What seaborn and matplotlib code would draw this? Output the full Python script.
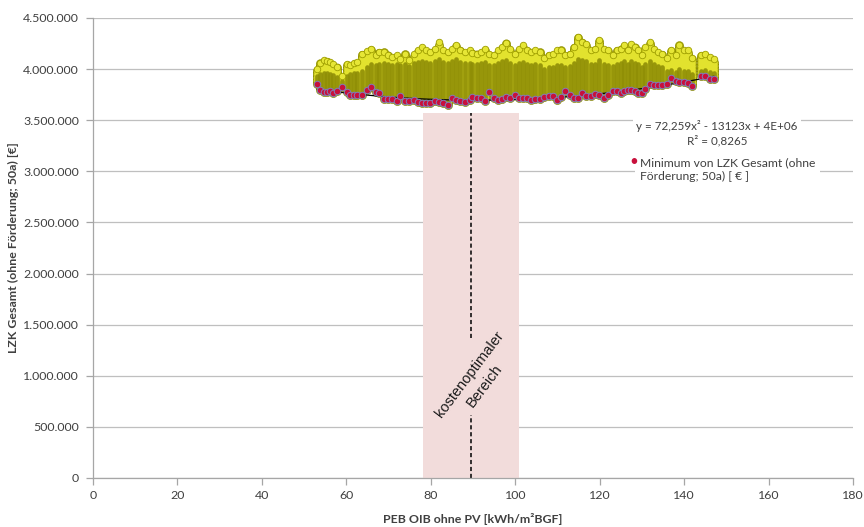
import numpy as np
import pandas as pd
import matplotlib
matplotlib.use("Agg")
import matplotlib.pyplot as plt
import seaborn as sns
from matplotlib.ticker import FuncFormatter

# ---------------- data ----------------
peb = [53.1, 53.8, 54.7, 55.4, 56.1, 56.9, 57.9, 58.9, 60.1, 60.9, 61.8, 62.6, 63.7, 65.0, 65.9, 67.0,
       67.8, 68.9, 69.9, 70.9, 72.0, 72.8, 73.8, 74.8,
       76.0, 77.0, 77.9, 78.9, 79.8, 81.0, 81.9, 82.9, 84.0, 85.0, 85.9, 87.0, 88.0, 89.2, 89.8, 90.9,
       91.9, 92.9, 93.9, 95.0, 95.9, 96.9, 97.9, 98.8,
       99.9, 100.9, 101.8, 102.8, 103.8, 104.8, 105.8, 106.8, 107.9, 109.0, 110.0, 110.9, 111.9, 112.9,
       113.9, 114.9, 115.8, 116.8, 117.9, 118.8, 119.9, 121.0, 122.0,
       123.2, 124.1, 125.0, 125.8, 126.6, 127.5, 128.3, 129.1, 130.0, 130.8, 131.9, 132.8, 133.8, 134.8,
       135.9, 137.0, 138.0, 138.9, 139.9, 140.9, 141.9, 143.9, 144.9, 146.1, 147.1]

# minimum LZK per variant column (Mio. €)
lzk_min = [3.853, 3.794, 3.775, 3.777, 3.781, 3.765, 3.781, 3.826, 3.777, 3.742, 3.742, 3.742, 3.742, 3.797,
           3.826, 3.777, 3.762, 3.706, 3.709, 3.703, 3.689, 3.735, 3.686, 3.689,
           3.696, 3.683, 3.664, 3.667, 3.670, 3.686, 3.674, 3.667, 3.650, 3.716, 3.696, 3.686, 3.676, 3.696,
           3.728, 3.722, 3.713, 3.689, 3.775, 3.716, 3.696, 3.709, 3.725, 3.713,
           3.745, 3.719, 3.719, 3.713, 3.696, 3.703, 3.706, 3.728, 3.738, 3.735, 3.696, 3.728, 3.784, 3.745,
           3.719, 3.719, 3.768, 3.738, 3.735, 3.752, 3.742, 3.719, 3.745,
           3.787, 3.784, 3.771, 3.787, 3.794, 3.794, 3.784, 3.771, 3.771, 3.801, 3.856, 3.843, 3.840, 3.843,
           3.853, 3.915, 3.885, 3.870, 3.876, 3.860, 3.836, 3.934, 3.934, 3.905, 3.899]

# maximum LZK per column (top of the yellow cloud, Mio. €)
lzk_max = [4.00, 4.06, 4.09, 4.08, 4.07, 4.05, 4.02, 3.93, 4.05, 4.04, 4.06, 4.07, 4.15, 4.18, 4.20, 4.14,
           4.17, 4.17, 4.14, 4.12, 4.14, 4.10, 4.15, 4.09,
           4.15, 4.19, 4.22, 4.19, 4.17, 4.20, 4.27, 4.19, 4.17, 4.20, 4.24, 4.19, 4.17, 4.19, 4.16, 4.15,
           4.17, 4.20, 4.15, 4.14, 4.19, 4.22, 4.26, 4.20,
           4.15, 4.20, 4.24, 4.19, 4.17, 4.19, 4.17, 4.11, 4.14, 4.15, 4.19, 4.19, 4.14, 4.15, 4.22, 4.31,
           4.27, 4.25, 4.19, 4.20, 4.28, 4.20, 4.19,
           4.14, 4.19, 4.20, 4.24, 4.19, 4.25, 4.22, 4.19, 4.14, 4.22, 4.27, 4.20, 4.17, 4.15, 4.11, 4.19,
           4.14, 4.24, 4.19, 4.19, 4.11, 4.14, 4.15, 4.12, 4.10]

# upper edge of the densely populated (dark) part of each column (Mio. €)
lzk_core = [3.93, 3.95, 3.96, 3.96, 3.95, 3.94, 3.92, 3.88,
            3.93, 3.95, 3.96, 3.96, 3.98,
            4.02, 4.05, 4.04, 4.05, 4.06, 4.05, 4.04, 4.05, 4.04, 4.05, 4.03,
            4.06, 4.07, 4.08, 4.07, 4.06, 4.08, 4.10, 4.07, 4.06, 4.08, 4.10, 4.07, 4.06, 4.06, 4.05, 4.05,
            4.06, 4.07, 4.04, 4.04, 4.06, 4.08, 4.09, 4.06,
            4.04, 4.06, 4.07, 4.05, 4.04, 4.05, 4.04, 4.00, 4.02, 4.02, 4.04, 4.04, 4.02, 4.03, 4.06, 4.10,
            4.09, 4.08, 4.05, 4.05, 4.09, 4.05, 4.04,
            4.03, 4.05, 4.06, 4.08, 4.05, 4.08, 4.06, 4.05, 4.02, 4.05, 4.08, 4.05, 4.03, 4.02, 3.98, 3.99,
            3.97, 4.00, 3.98, 3.98, 3.95, 3.98, 3.99, 3.97, 3.96]

opt_range = [78.2, 101.0]      # kostenoptimaler Bereich (kWh/m²BGF)
opt_top = 3.57e6
opt_center = 89.6
dash_upper = [1.37e6, 3.57e6]
dash_lower = [0.0, 0.62e6]

x_ticks = [0, 20, 40, 60, 80, 100, 120, 140, 160, 180]
y_ticks = [0, 500000, 1000000, 1500000, 2000000, 2500000, 3000000, 3500000, 4000000, 4500000]

eq_text = "y = 72,259x² - 13123x + 4E+06\nR² = 0,8265"
legend_label = "Minimum von LZK Gesamt (ohne\nFörderung; 50a) [ € ]"
region_label = "kostenoptimaler\nBereich"
xlabel = "PEB OIB ohne PV [kWh/m²BGF]"
ylabel = "LZK Gesamt (ohne Förderung; 50a) [€]"

df = pd.DataFrame({
    "peb": peb,
    "min": np.array(lzk_min) * 1e6,
    "max": np.array(lzk_max) * 1e6,
    "core": np.array(lzk_core) * 1e6,
})

# ---------------- styling ----------------
sns.set_theme(style="white")
plt.rcParams["font.family"] = ["Lato", "DejaVu Sans"]
plt.rcParams["lines.scale_dashes"] = False
TXT = "#404040"
GRID = "#bfbfbf"

fig = plt.figure(figsize=(8.64, 5.27), dpi=100)
ax = fig.add_axes([93 / 864, 49 / 527, 760 / 864, 460 / 527])

ax.set_xlim(0, 180)
ax.set_ylim(0, 4.5e6)
ax.set_xticks(x_ticks)
ax.set_yticks(y_ticks)
ax.yaxis.grid(True, color=GRID, lw=0.9)
ax.xaxis.grid(False)
ax.set_axisbelow(True)

for s in ["top", "right"]:
    ax.spines[s].set_visible(False)
for s in ["left", "bottom"]:
    ax.spines[s].set_color("#a6a6a6")
    ax.spines[s].set_linewidth(0.9)

ax.tick_params(axis="both", which="major", length=5, width=0.9, color="#a6a6a6",
               labelsize=8.9, labelcolor=TXT, direction="out")
ax.tick_params(axis="x", pad=3.5, bottom=True)
ax.tick_params(axis="y", pad=5, left=True)
ax.yaxis.set_major_formatter(FuncFormatter(lambda v, p: f"{v:,.0f}".replace(",", ".")))

# cost-optimal region
ax.fill_between(opt_range, 0, opt_top, color="#f2dcdb", lw=0, zorder=1)
ax.vlines([opt_center, opt_center], [dash_upper[0], dash_lower[0]], [dash_upper[1], dash_lower[1]],
          colors="black", lw=1.1, linestyles=(0, (3, 2)), zorder=1.2)
ax.text(90.9, 0.96e6, region_label, rotation=53, rotation_mode="anchor", ha="center", va="center",
        multialignment="center", fontsize=10.5, family=["Liberation Sans", "DejaVu Sans"],
        color="#1a1a1a", linespacing=1.4, zorder=1.3)

# yellow cloud of all variants (stacked circles look: dotted round-capped columns)
dots = (0, (0.01, 2.4))
ax.vlines(df["peb"], df["min"], df["max"], colors="#929200", lw=6.4, capstyle="round",
          linestyles=dots, zorder=2)
ax.vlines(df["peb"], df["min"], df["max"], colors="#e2e22e", lw=4.9, capstyle="round",
          linestyles=dots, zorder=2.05)
ax.vlines(df["peb"], df["min"], df["core"], colors="#8f8e06", lw=3.4, capstyle="round",
          alpha=0.9, zorder=2.1)
sns.scatterplot(data=df, x="peb", y="max", s=22, color="#e6e636", edgecolor="#9e9e00",
                linewidth=0.6, zorder=2.2, ax=ax, legend=False)

# quadratic trend line
sns.regplot(data=df, x="peb", y="min", order=2, scatter=False, ci=None, ax=ax,
            line_kws=dict(color="black", lw=0.9, zorder=3))

# minima
sns.scatterplot(data=df, x="peb", y="min", s=22, color="#c8103c", edgecolor="#7f7fb8",
                linewidth=0.7, zorder=4, ax=ax, legend=False)

# equation box
ax.text(147.8, 3.37e6, eq_text, ha="center", va="center", multialignment="center", fontsize=8.4,
        color=TXT, linespacing=1.3, zorder=5,
        bbox=dict(boxstyle="square,pad=0.3", fc="white", ec="none"))

# legend-like box
ax.text(129.5, 3.018e6, legend_label, ha="left", va="center", fontsize=8.7, color=TXT,
        linespacing=1.3, zorder=5, bbox=dict(boxstyle="square,pad=0.4", fc="white", ec="none"))
ax.text(128.1, 3.09e6, "•", ha="center", va="center", fontsize=11, color="#c8103c", zorder=6)

ax.set_xlabel(xlabel, fontsize=8.9, fontweight="bold", color=TXT)
ax.set_ylabel(ylabel, fontsize=8.9, fontweight="bold", color=TXT)
ax.xaxis.set_label_coords(0.5, -0.089)
ax.xaxis.label.set_va("center")
ax.yaxis.set_label_coords(-0.104, 0.5)
ax.yaxis.label.set_va("center")

fig.savefig("out.png", dpi=100)
